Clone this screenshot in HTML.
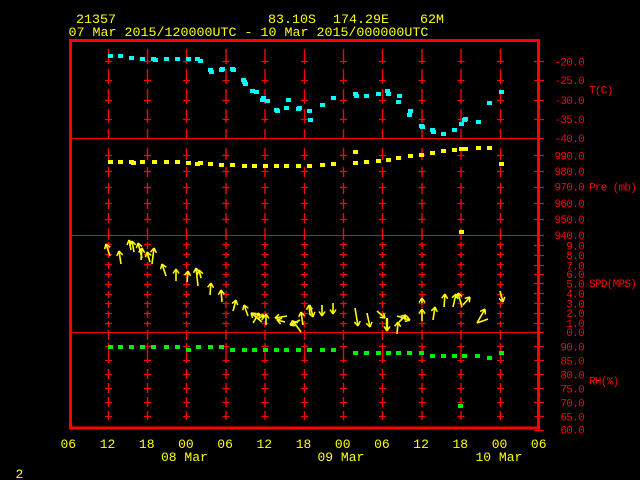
<!DOCTYPE html>
<html><head><meta charset="utf-8"><style>
html,body{margin:0;padding:0;background:#000;}
svg{display:block;}
text{font-family:"Liberation Mono",monospace;}
</style></head><body>
<svg width="640" height="480" viewBox="0 0 640 480" xmlns="http://www.w3.org/2000/svg">
<defs>
<marker id="ah" viewBox="0 0 10 10" refX="5" refY="5" markerWidth="10" markerHeight="10" markerUnits="userSpaceOnUse" orient="auto" overflow="visible">
<path d="M5,5 L0.5,2 M5,5 L0.5,8" stroke="#ffff00" stroke-width="1.5" fill="none"/>
</marker>
<g id="col" stroke="#ff0000" fill="none">
<path stroke-width="1.4" d="M0,49V64 M0,69V84 M0,89V104 M0,109V123 M0,129V138 M0,148V160 M0,167V177 M0,183V194 M0,199V209 M0,213V223 M0,228V240 M0,242V249 M0,252V258 M0,262V269 M0,272V278 M0,281V288 M0,291V298 M0,301V308 M0,311V318 M0,321V327 M0,330V340 M0,343V363 M0,369V379 M0,383V393 M0,397V407 M0,411V420"/>
<path stroke-width="1.2" d="M-3.5,61.5H3.5 M-3.5,80.5H3.5 M-3.5,100.5H3.5 M-3.5,119.5H3.5 M-3.5,155.5H3.5 M-3.5,171.5H3.5 M-3.5,187.5H3.5 M-3.5,203.5H3.5 M-3.5,219.5H3.5 M-3.5,244.5H3.5 M-3.5,254.5H3.5 M-3.5,264.5H3.5 M-3.5,274.5H3.5 M-3.5,284.5H3.5 M-3.5,294.5H3.5 M-3.5,303.5H3.5 M-3.5,313.5H3.5 M-3.5,323.5H3.5 M-3.5,346.5H3.5 M-3.5,360.5H3.5 M-3.5,374.5H3.5 M-3.5,388.5H3.5 M-3.5,402.5H3.5 M-3.5,416.5H3.5"/>
</g>
</defs>
<rect x="0" y="0" width="640" height="480" fill="#000"/>

<!-- header -->
<g fill="#ffff00" font-size="13.33">
<text x="76" y="23">21357</text>
<text x="268" y="23">83.10S</text>
<text x="333" y="23">174.29E</text>
<text x="420" y="23">62M</text>
<text x="68.5" y="36">07 Mar 2015/120000UTC - 10 Mar 2015/000000UTC</text>
</g>

<!-- columns -->
<use href="#col" x="108.5"/>
<use href="#col" x="147.5"/>
<use href="#col" x="186.5"/>
<use href="#col" x="226"/>
<use href="#col" x="265"/>
<use href="#col" x="304.5"/>
<use href="#col" x="343.5"/>
<use href="#col" x="382.5"/>
<use href="#col" x="422"/>
<use href="#col" x="461"/>
<use href="#col" x="500.5"/>

<!-- dividers -->
<path d="M70,138.5H538 M70,235.5H538 M70,332.5H538" stroke="#ff0000" stroke-width="1" fill="none"/>

<!-- right ticks -->
<path stroke="#ff0000" stroke-width="1.2" fill="none" d="M534,61.5H544 M534,80.5H544 M534,100.5H544 M534,119.5H544 M534,138.5H544 M534,155.5H544 M534,171.5H544 M534,187.5H544 M534,203.5H544 M534,219.5H544 M534,235.5H544 M534,245.5H544 M534,255.5H544 M534,265.5H544 M534,274.5H544 M534,283.5H544 M534,293.5H544 M534,303.5H544 M534,313.5H544 M534,323.5H544 M534,332.5H544 M534,346.5H544 M534,360.5H544 M534,374.5H544 M534,388.5H544 M534,402.5H544 M534,416.5H544 M534,430.5H544"/>

<!-- frame -->
<rect x="70.5" y="40.5" width="468" height="387.5" fill="none" stroke="#ff0000" stroke-width="3"/>

<!-- right labels -->
<g fill="#ff0000" font-size="11" letter-spacing="-0.7" text-anchor="end">
<text x="584" y="65.4">-20.0</text>
<text x="584" y="84">-25.0</text>
<text x="584" y="104">-30.0</text>
<text x="584" y="123">-35.0</text>
<text x="584" y="142">-40.0</text>
<text x="584" y="159.4">990.0</text>
<text x="584" y="175">980.0</text>
<text x="584" y="190.7">970.0</text>
<text x="584" y="207">960.0</text>
<text x="584" y="223">950.0</text>
<text x="584" y="239">940.0</text>
<text x="584" y="249.4">9.0</text>
<text x="584" y="259">8.0</text>
<text x="584" y="269.4">7.0</text>
<text x="584" y="278">6.0</text>
<text x="584" y="287.4">5.0</text>
<text x="584" y="297.4">4.0</text>
<text x="584" y="307.4">3.0</text>
<text x="584" y="317">2.0</text>
<text x="584" y="327">1.0</text>
<text x="584" y="336">0.0</text>
<text x="584" y="350.4">90.0</text>
<text x="584" y="364.4">85.0</text>
<text x="584" y="378.4">80.0</text>
<text x="584" y="392.4">75.0</text>
<text x="584" y="406.4">70.0</text>
<text x="584" y="420.4">65.0</text>
<text x="584" y="433.7">60.0</text>
</g>
<g fill="#ff0000" font-size="11" letter-spacing="-0.7">
<text x="589" y="93.4">T(C)</text>
<text x="589" y="190.4">Pre (mb)</text>
<text x="589" y="287">SPD(MPS)</text>
<text x="589" y="384.4">RH(%)</text>
</g>

<!-- temperature -->
<g fill="#00ffff">
<rect x="108" y="54" width="5" height="4"/>
<rect x="118" y="54" width="5" height="4"/>
<rect x="129" y="56" width="5" height="4"/>
<rect x="140" y="57" width="5" height="4"/>
<rect x="151" y="57" width="5" height="4"/>
<rect x="153" y="58" width="5" height="4"/>
<rect x="164" y="57" width="5" height="4"/>
<rect x="175" y="57" width="5" height="4"/>
<rect x="186" y="57" width="5" height="4"/>
<rect x="195" y="57" width="5" height="4"/>
<rect x="198" y="59" width="5" height="4"/>
<rect x="208" y="68" width="5" height="4"/>
<rect x="209" y="70" width="5" height="4"/>
<rect x="219" y="68" width="5" height="4"/>
<rect x="220" y="67" width="5" height="4"/>
<rect x="230" y="67" width="5" height="4"/>
<rect x="231" y="68" width="5" height="4"/>
<rect x="241" y="78" width="5" height="4"/>
<rect x="242" y="80" width="5" height="4"/>
<rect x="243" y="82" width="5" height="4"/>
<rect x="250" y="89" width="5" height="4"/>
<rect x="254" y="90" width="5" height="4"/>
<rect x="261" y="96" width="5" height="4"/>
<rect x="260" y="98" width="5" height="4"/>
<rect x="265" y="99" width="5" height="4"/>
<rect x="286" y="98" width="5" height="4"/>
<rect x="274" y="108" width="5" height="4"/>
<rect x="275" y="109" width="5" height="4"/>
<rect x="284" y="106" width="5" height="4"/>
<rect x="296" y="107" width="5" height="4"/>
<rect x="297" y="106" width="5" height="4"/>
<rect x="307" y="109" width="5" height="4"/>
<rect x="308" y="118" width="5" height="4"/>
<rect x="320" y="103" width="5" height="4"/>
<rect x="331" y="96" width="5" height="4"/>
<rect x="353" y="92" width="5" height="4"/>
<rect x="354" y="94" width="5" height="4"/>
<rect x="364" y="94" width="5" height="4"/>
<rect x="376" y="92" width="5" height="4"/>
<rect x="385" y="89" width="5" height="4"/>
<rect x="386" y="92" width="5" height="4"/>
<rect x="397" y="94" width="5" height="4"/>
<rect x="396" y="100" width="5" height="4"/>
<rect x="408" y="109" width="5" height="4"/>
<rect x="407" y="113" width="5" height="4"/>
<rect x="419" y="124" width="5" height="4"/>
<rect x="420" y="125" width="5" height="4"/>
<rect x="430" y="128" width="5" height="4"/>
<rect x="431" y="130" width="5" height="4"/>
<rect x="441" y="132" width="5" height="4"/>
<rect x="452" y="128" width="5" height="4"/>
<rect x="459" y="122" width="5" height="4"/>
<rect x="463" y="117" width="5" height="4"/>
<rect x="462" y="118" width="5" height="4"/>
<rect x="476" y="120" width="5" height="4"/>
<rect x="487" y="101" width="5" height="4"/>
<rect x="499" y="90" width="5" height="4"/>
</g>

<!-- pressure -->
<g fill="#ffff00">
<rect x="108" y="160" width="5" height="4"/>
<rect x="118" y="160" width="5" height="4"/>
<rect x="129" y="160" width="5" height="4"/>
<rect x="131" y="161" width="5" height="4"/>
<rect x="140" y="160" width="5" height="4"/>
<rect x="152" y="160" width="5" height="4"/>
<rect x="164" y="160" width="5" height="4"/>
<rect x="175" y="160" width="5" height="4"/>
<rect x="186" y="161" width="5" height="4"/>
<rect x="195" y="162" width="5" height="4"/>
<rect x="198" y="161" width="5" height="4"/>
<rect x="208" y="162" width="5" height="4"/>
<rect x="219" y="163" width="5" height="4"/>
<rect x="230" y="163" width="5" height="4"/>
<rect x="242" y="164" width="5" height="4"/>
<rect x="252" y="164" width="5" height="4"/>
<rect x="263" y="164" width="5" height="4"/>
<rect x="274" y="164" width="5" height="4"/>
<rect x="284" y="164" width="5" height="4"/>
<rect x="296" y="164" width="5" height="4"/>
<rect x="307" y="164" width="5" height="4"/>
<rect x="320" y="163" width="5" height="4"/>
<rect x="331" y="162" width="5" height="4"/>
<rect x="353" y="150" width="5" height="4"/>
<rect x="353" y="161" width="5" height="4"/>
<rect x="364" y="160" width="5" height="4"/>
<rect x="376" y="159" width="5" height="4"/>
<rect x="386" y="158" width="5" height="4"/>
<rect x="396" y="156" width="5" height="4"/>
<rect x="408" y="154" width="5" height="4"/>
<rect x="419" y="153" width="5" height="4"/>
<rect x="430" y="151" width="5" height="4"/>
<rect x="441" y="149" width="5" height="4"/>
<rect x="452" y="148" width="5" height="4"/>
<rect x="459" y="147" width="5" height="4"/>
<rect x="463" y="147" width="5" height="4"/>
<rect x="476" y="146" width="5" height="4"/>
<rect x="487" y="146" width="5" height="4"/>
<rect x="499" y="162" width="5" height="4"/>
<rect x="459" y="230" width="5" height="4"/>
</g>

<!-- wind arrows -->
<g stroke="#ffff00" stroke-width="1.6" fill="none" marker-end="url(#ah)">
<line x1="110" y1="256" x2="106" y2="244"/>
<line x1="121" y1="264" x2="119" y2="251"/>
<line x1="131" y1="250" x2="129" y2="240"/>
<line x1="134" y1="252" x2="132" y2="241"/>
<line x1="142" y1="258" x2="138" y2="243"/>
<line x1="141" y1="260" x2="142" y2="248"/>
<line x1="152" y1="264" x2="154" y2="248"/>
<line x1="150" y1="262" x2="147" y2="252"/>
<line x1="166" y1="276" x2="162" y2="264"/>
<line x1="176" y1="281" x2="176" y2="269"/>
<line x1="187" y1="282" x2="188" y2="271"/>
<line x1="198" y1="286" x2="196" y2="268"/>
<line x1="201" y1="278" x2="199" y2="270"/>
<line x1="210" y1="295" x2="211" y2="283"/>
<line x1="222" y1="302" x2="221" y2="290"/>
<line x1="233" y1="311" x2="236" y2="300"/>
<line x1="248" y1="316" x2="244" y2="305"/>
<line x1="262" y1="322" x2="251" y2="313"/>
<line x1="253" y1="323" x2="259" y2="313"/>
<line x1="258" y1="319" x2="264" y2="315"/>
<line x1="266" y1="325" x2="266" y2="314"/>
<line x1="287" y1="316" x2="275" y2="318"/>
<line x1="285" y1="322" x2="277" y2="320"/>
<line x1="300" y1="320" x2="290" y2="325"/>
<line x1="301" y1="332" x2="293" y2="321"/>
<line x1="303" y1="325" x2="301" y2="312"/>
<line x1="310" y1="315" x2="309" y2="305"/>
<line x1="310" y1="305" x2="313" y2="317"/>
<line x1="322" y1="305" x2="322" y2="316"/>
<line x1="333" y1="303" x2="333" y2="314"/>
<line x1="355" y1="308" x2="358" y2="326"/>
<line x1="367" y1="313" x2="370" y2="327"/>
<line x1="377" y1="311" x2="385" y2="318"/>
<line x1="387" y1="318" x2="387" y2="331" stroke-width="2.4"/>
<line x1="397" y1="334" x2="398" y2="322"/>
<line x1="397" y1="316" x2="410" y2="320"/>
<line x1="399" y1="322" x2="406" y2="315"/>
<line x1="422" y1="303" x2="422" y2="298"/>
<line x1="422" y1="321" x2="422" y2="309"/>
<line x1="433" y1="320" x2="435" y2="307"/>
<line x1="444" y1="307" x2="445" y2="294"/>
<line x1="453" y1="307" x2="456" y2="294"/>
<line x1="462" y1="307" x2="458" y2="293"/>
<line x1="463" y1="305" x2="470" y2="297"/>
<line x1="477" y1="323" x2="485" y2="309"/>
<line x1="500" y1="291" x2="503" y2="302"/>
</g>
<path d="M477,323 L488,319" stroke="#ffff00" stroke-width="1.6" fill="none"/>

<!-- RH -->
<g fill="#00f000">
<rect x="108" y="345" width="5" height="4"/>
<rect x="118" y="345" width="5" height="4"/>
<rect x="129" y="345" width="5" height="4"/>
<rect x="140" y="345" width="5" height="4"/>
<rect x="151" y="345" width="5" height="4"/>
<rect x="164" y="345" width="5" height="4"/>
<rect x="175" y="345" width="5" height="4"/>
<rect x="186" y="348" width="5" height="4"/>
<rect x="196" y="345" width="5" height="4"/>
<rect x="208" y="345" width="5" height="4"/>
<rect x="219" y="345" width="5" height="4"/>
<rect x="230" y="348" width="5" height="4"/>
<rect x="242" y="348" width="5" height="4"/>
<rect x="252" y="348" width="5" height="4"/>
<rect x="263" y="348" width="5" height="4"/>
<rect x="274" y="348" width="5" height="4"/>
<rect x="284" y="348" width="5" height="4"/>
<rect x="296" y="348" width="5" height="4"/>
<rect x="307" y="348" width="5" height="4"/>
<rect x="320" y="348" width="5" height="4"/>
<rect x="331" y="348" width="5" height="4"/>
<rect x="353" y="351" width="5" height="4"/>
<rect x="364" y="351" width="5" height="4"/>
<rect x="376" y="351" width="5" height="4"/>
<rect x="386" y="351" width="5" height="4"/>
<rect x="396" y="351" width="5" height="4"/>
<rect x="407" y="351" width="5" height="4"/>
<rect x="419" y="351" width="5" height="4"/>
<rect x="430" y="354" width="5" height="4"/>
<rect x="441" y="354" width="5" height="4"/>
<rect x="452" y="354" width="5" height="4"/>
<rect x="462" y="354" width="5" height="4"/>
<rect x="475" y="354" width="5" height="4"/>
<rect x="487" y="356" width="5" height="4"/>
<rect x="499" y="351" width="5" height="4"/>
<rect x="458" y="404" width="5" height="4"/>
</g>

<!-- bottom axis labels -->
<g fill="#ffff00" font-size="13" text-anchor="middle">
<text x="68.3" y="448">06</text>
<text x="107.5" y="448">12</text>
<text x="146.7" y="448">18</text>
<text x="185.9" y="448">00</text>
<text x="225.1" y="448">06</text>
<text x="264.3" y="448">12</text>
<text x="303.5" y="448">18</text>
<text x="342.7" y="448">00</text>
<text x="381.9" y="448">06</text>
<text x="421.1" y="448">12</text>
<text x="460.3" y="448">18</text>
<text x="499.5" y="448">00</text>
<text x="538.7" y="448">06</text>
</g>
<g fill="#ffff00" font-size="13">
<text x="161" y="461">08 Mar</text>
<text x="317.5" y="461">09 Mar</text>
<text x="475.5" y="461">10 Mar</text>
<text x="15.5" y="478">2</text>
</g>
</svg>
</body></html>
